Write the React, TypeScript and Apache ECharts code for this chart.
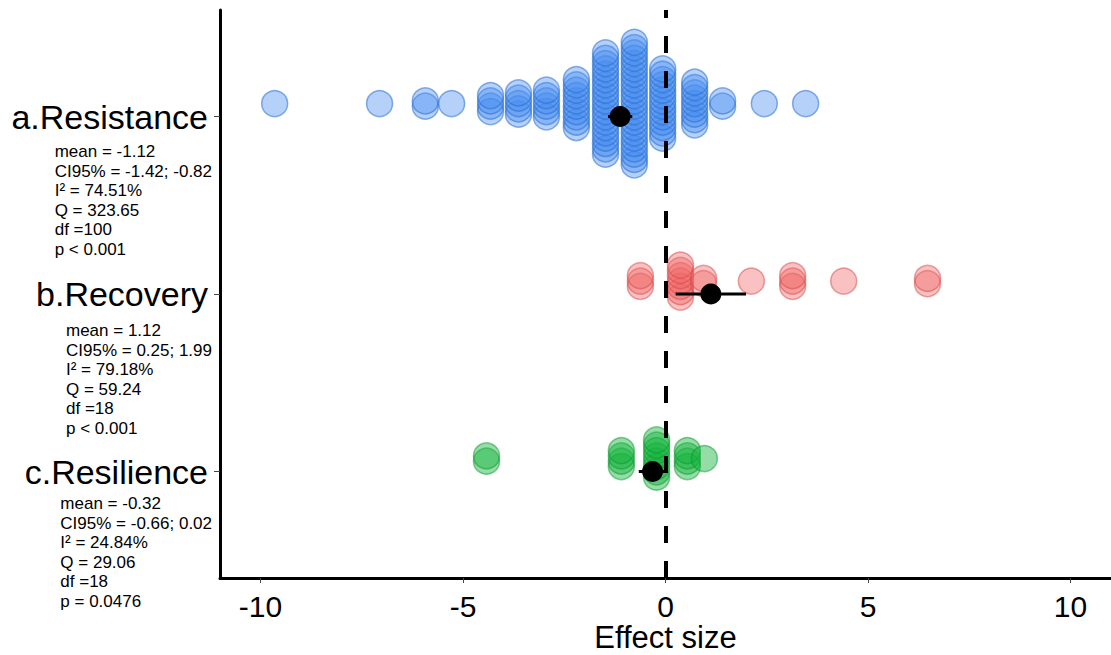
import React, { useEffect, useRef } from "react";
import * as echarts from "echarts";

// ---------- data ----------
const categories = ["a.Resistance", "b.Recovery", "c.Resilience"];
const categoryPos = [3, 2, 1];

// effect-size values (dot columns) and number of studies at each value
const resistanceX = [-9.65, -7.06, -5.93, -5.28, -4.32, -3.63, -2.94, -2.2, -1.48, -0.77, -0.07, 0.72, 1.41, 2.44, 3.46];
const resistanceN = [1, 1, 2, 1, 4, 5, 6, 10, 20, 24, 14, 9, 2, 1, 1];
const recoveryX = [-0.62, 0.37, 0.94, 2.12, 3.14, 4.4, 6.47];
const recoveryN = [3, 7, 2, 1, 3, 1, 2];
const resilienceX = [-4.42, -1.09, -0.22, 0.54, 0.96];
const resilienceN = [2, 4, 8, 4, 1];

const means = [-1.12, 1.12, -0.32];
const ciLow = [-1.42, 0.25, -0.66];
const ciHigh = [-0.82, 1.99, 0.02];

const statsResistance = ["mean = -1.12", "CI95% = -1.42; -0.82", "I\u00b2 = 74.51%", "Q = 323.65", "df =100", "p < 0.001"];
const statsRecovery = ["mean = 1.12", "CI95% = 0.25; 1.99", "I\u00b2 = 79.18%", "Q = 59.24", "df =18", "p < 0.001"];
const statsResilience = ["mean = -0.32", "CI95% = -0.66; 0.02", "I\u00b2 = 24.84%", "Q = 29.06", "df =18", "p = 0.0476"];
const statsLines = [statsResistance, statsRecovery, statsResilience];

const xTicks = [-10, -5, 0, 5, 10];

// ---------- layout ----------
const FONT = "'Liberation Sans', Arial, Helvetica, sans-serif";
const STACK_STEP = 0.03; // vertical spacing of stacked dots (axis units)
const STACK_SHIFT = 0.073; // dots drawn slightly above the category line
const statsAnchor = [2.856, 1.848, 0.872];

function swarm(xs: number[], ns: number[], pos: number) {
  const out: number[][] = [];
  xs.forEach((x, i) => {
    const n = ns[i];
    for (let j = 0; j < n; j++) {
      out.push([x, pos + STACK_SHIFT + (j - (n - 1) / 2) * STACK_STEP]);
    }
  });
  return out;
}

function catIndex(v: number) {
  return categoryPos.indexOf(Math.round(v));
}

export default function App() {
  const ref = useRef<HTMLDivElement>(null);

  useEffect(() => {
    if (!ref.current) return;
    const chart = echarts.init(ref.current, undefined, { renderer: "svg" });

    const dotSeries = (data: number[][], fill: string, stroke: string) => ({
      type: "scatter",
      data,
      symbol: "circle",
      symbolSize: 26,
      itemStyle: { color: fill, borderColor: stroke, borderWidth: 1.5, opacity: 1 },
      z: 2,
      silent: true,
    });

    chart.setOption({
      animation: false,
      textStyle: { fontFamily: FONT },
      grid: { left: 220, right: 0, top: 10, bottom: 77, containLabel: false, outerBoundsMode: "none" },
      xAxis: {
        type: "value",
        min: -11,
        max: 11,
        axisLine: { show: true, onZero: false, lineStyle: { color: "#000", width: 3 } },
        axisTick: { show: true, customValues: xTicks, length: 5, lineStyle: { color: "#444", width: 1 } },
        axisLabel: { customValues: xTicks, fontSize: 30, lineHeight: 30, color: "#000", margin: 13, fontFamily: FONT },
        splitLine: { show: false },
        name: "Effect size",
        nameLocation: "middle",
        nameGap: 44,
        nameMoveOverlap: false,
        nameTextStyle: { fontSize: 31, lineHeight: 31, color: "#000", fontFamily: FONT },
      },
      yAxis: [
        {
          type: "value",
          min: 0.4,
          max: 3.6,
          axisLine: { show: true, onZero: false, lineStyle: { color: "#000", width: 3 } },
          axisTick: { show: true, customValues: categoryPos, length: 6, lineStyle: { color: "#444", width: 1 } },
          axisLabel: {
            customValues: categoryPos,
            formatter: (v: number) => categories[catIndex(v)] ?? "",
            fontSize: 34,
            color: "#000",
            margin: 12,
            fontFamily: FONT,
          },
          splitLine: { show: false },
        },
        {
          type: "value",
          min: 0.4,
          max: 3.6,
          position: "left",
          axisLine: { show: false },
          axisTick: { show: false },
          splitLine: { show: false },
          axisLabel: {
            customValues: statsAnchor,
            verticalAlign: "top",
            margin: 8,
            formatter: (v: number) => {
              const lines = statsLines[catIndex(v)] ?? [];
              return lines.map((l) => `{s|${l}}`).join("\n");
            },
            rich: {
              s: { fontSize: 17, lineHeight: 19.5, align: "left", color: "#000", fontFamily: FONT },
            },
          },
        },
      ],
      series: [
        dotSeries(swarm(resistanceX, resistanceN, categoryPos[0]), "rgba(70,140,240,0.4)", "rgba(40,110,210,0.55)"),
        dotSeries(swarm(recoveryX, recoveryN, categoryPos[1]), "rgba(240,100,100,0.4)", "rgba(215,70,70,0.5)"),
        dotSeries(swarm(resilienceX, resilienceN, categoryPos[2]), "rgba(20,180,60,0.45)", "rgba(10,150,45,0.5)"),
        {
          type: "custom",
          z: 9,
          silent: true,
          data: means.map((_, i) => [ciLow[i], ciHigh[i], categoryPos[i]]),
          encode: { x: [0, 1], y: 2 },
          renderItem: (_params: any, api: any) => {
            const y = api.value(2);
            const p1 = api.coord([api.value(0), y]);
            const p2 = api.coord([api.value(1), y]);
            return {
              type: "line",
              shape: { x1: p1[0], y1: p1[1], x2: p2[0], y2: p2[1] },
              style: { stroke: "#000", lineWidth: 3 },
            };
          },
        },
        {
          type: "scatter",
          z: 10,
          silent: true,
          data: means.map((m, i) => [m, categoryPos[i]]),
          symbol: "circle",
          symbolSize: 21,
          itemStyle: { color: "#000", opacity: 1 },
          markLine: {
            silent: true,
            z: 5,
            symbol: ["none", "none"],
            label: { show: false },
            lineStyle: { color: "#000", width: 4, type: [17, 18], opacity: 1 },
            data: [{ xAxis: 0 }],
          },
        },
      ],
    });

    return () => chart.dispose();
  }, []);

  return (
    <div
      ref={ref}
      style={{ position: "fixed", left: 0, top: 0, width: 1111, height: 655, background: "#fff" }}
    />
  );
}
